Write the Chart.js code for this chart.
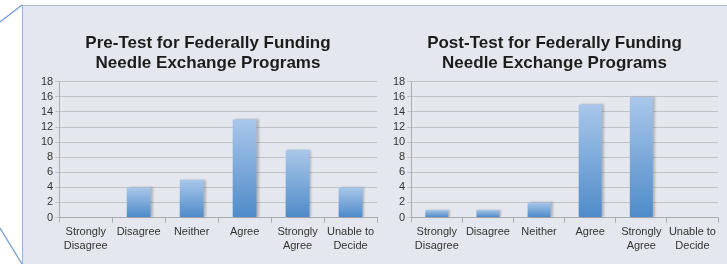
<!DOCTYPE html>
<html>
<head>
<meta charset="utf-8">
<script src="https://cdn.jsdelivr.net/npm/chart.js@4.4.0/dist/chart.umd.min.js"></script>
<style>
    html, body { margin: 0; padding: 0; background: #ffffff; }
    body { width: 727px; height: 264px; position: relative; overflow: hidden; }
    .panel {
        position: absolute; left: 22px; top: 5px; width: 705px; height: 259px;
        background: #e4e8ee;
        border-left: 1px solid #93b3d9; border-top: 1px solid #a9c2e0;
        box-sizing: border-box;
    }
    .deco { position: absolute; left: 0; top: 0; }
    .box { position: absolute; top: 0; height: 264px; }
    #left { left: 22px; width: 360px; }
    #right { left: 382px; width: 345px; }
</style>
</head>
<body>
<div class="panel"></div>
<svg class="deco" width="30" height="264">
    <line x1="0" y1="22" x2="22" y2="5" stroke="#6f9ad0" stroke-width="1.2"/>
    <line x1="0" y1="228" x2="22" y2="264" stroke="#6f9ad0" stroke-width="1.2"/>
</svg>
<div class="box" id="left"><canvas id="preChart"></canvas></div>
<div class="box" id="right"><canvas id="postChart"></canvas></div>

<script>
const categories = [["Strongly", "Disagree"], "Disagree", "Neither", "Agree", ["Strongly", "Agree"], ["Unable to", "Decide"]];
const preValues = [0, 4, 5, 13, 9, 4];
const postValues = [1, 1, 2, 15, 16, 0];
const yMax = 18;
const yStep = 2;

const fontFamily = "'Liberation Sans', Arial, sans-serif";

// bars share one options object, so draw them one by one,
// each with its own top-to-bottom gradient and a soft shadow on the right
const barStyle = {
    id: "barStyle",
    beforeDatasetDraw(chart, args) {
        const ctx = chart.ctx;
        ctx.save();
        ctx.shadowColor = "rgba(0, 0, 0, 0.22)";
        ctx.shadowOffsetX = 2;
        ctx.shadowOffsetY = 0;
        ctx.shadowBlur = 2;
        args.meta.data.forEach(bar => {
            if (Math.abs(bar.base - bar.y) < 0.5) {
                return;
            }
            const g = ctx.createLinearGradient(0, bar.y, 0, bar.base);
            g.addColorStop(0, "#a9c7ea");
            g.addColorStop(1, "#4f8bc9");
            bar.options.backgroundColor = g;
            bar.draw(ctx, chart.chartArea);
        });
        ctx.restore();
        return false;
    }
};

function createBarChart(id, title, content, padding) {
    return new Chart(id, {
        type: "bar",
        data: {
            labels: categories,
            datasets: [{
                data: content,
                backgroundColor: "#7aa7d9",
                categoryPercentage: 1,
                barPercentage: 0.45
            }]
        },
        options: {
            responsive: true,
            maintainAspectRatio: false,
            animation: false,
            layout: { padding: padding },
            scales: {
                x: {
                    grid: {
                        drawOnChartArea: false,
                        tickLength: 5,
                        color: "#a9adb2"
                    },
                    border: { color: "#a9adb2" },
                    ticks: {
                        color: "#333333",
                        maxRotation: 0,
                        autoSkip: false,
                        padding: 3,
                        font: { family: fontFamily, size: 11, lineHeight: 1.25 }
                    }
                },
                y: {
                    min: 0,
                    max: yMax,
                    grid: {
                        color: "#bfc3c8",
                        tickLength: 4
                    },
                    border: { color: "#a9adb2" },
                    ticks: {
                        stepSize: yStep,
                        autoSkip: false,
                        color: "#333333",
                        padding: 2,
                        font: { family: fontFamily, size: 11 }
                    }
                }
            },
            plugins: {
                legend: { display: false },
                tooltip: { enabled: false },
                title: {
                    display: true,
                    text: title,
                    color: "#1c1c1c",
                    padding: { top: 0, bottom: 8 },
                    font: { family: fontFamily, size: 17, weight: "bold", lineHeight: 1.2 }
                }
            }
        },
        plugins: [barStyle]
    });
}

createBarChart("preChart",
    ["Pre-Test for Federally Funding", "Needle Exchange Programs"],
    preValues, { left: 17, right: 5, top: 33, bottom: 8 });

createBarChart("postChart",
    ["Post-Test for Federally Funding", "Needle Exchange Programs"],
    postValues, { left: 9, right: 9, top: 33, bottom: 8 });
</script>
</body>
</html>
